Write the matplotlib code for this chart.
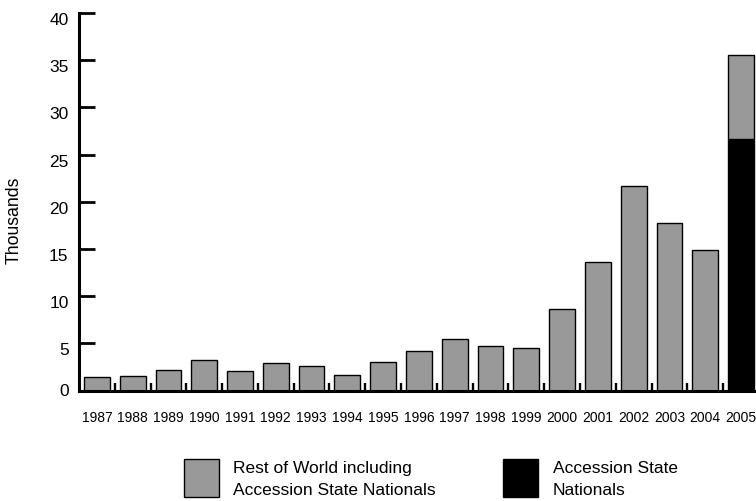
import matplotlib
matplotlib.use("Agg")
import matplotlib.pyplot as plt
from matplotlib.patches import Rectangle
from matplotlib.ticker import FixedLocator
from matplotlib.transforms import ScaledTranslation
import numpy as np

years = [str(y) for y in range(1987, 2006)]
rest_of_world = [1.4, 1.55, 2.15, 3.25, 2.05, 2.9, 2.55, 1.65, 3.05, 4.2,
                 5.45, 4.7, 4.5, 8.6, 13.6, 21.7, 17.7, 14.9, 8.9]
accession = [0, 0, 0, 0, 0, 0, 0, 0, 0, 0,
             0, 0, 0, 0, 0, 0, 0, 0, 26.6]
y_ticks = [0, 5, 10, 15, 20, 25, 30, 35, 40]
legend_labels = [["Rest of World including", "Accession State Nationals"],
                 ["Accession State", "Nationals"]]

plt.rcParams['font.family'] = ['Liberation Sans', 'DejaVu Sans']

GREY = "#999999"
W, H = 756, 501

fig = plt.figure(figsize=(7.56, 5.01), dpi=100)
ax = fig.add_axes([79 / W, 1 - 390.5 / H, 677 / W, 377.5 / H])

x = np.arange(len(years))
ax.bar(x, accession, width=0.72, color="black", edgecolor="black", linewidth=1)
ax.bar(x, rest_of_world, width=0.72, bottom=accession, color=GREY,
       edgecolor="black", linewidth=1)

ax.set_xlim(-0.5, 18.42)
ax.set_ylim(0, 40)
ax.set_yticks(y_ticks)
ax.set_yticklabels([str(t) for t in y_ticks], fontsize=12.5)
ax.tick_params(axis='y', direction='in', length=11.5, width=2, pad=7.5)
# labels sit a little below their ticks in the original (except the zero)
shift = ScaledTranslation(0, -6 / 100, fig.dpi_scale_trans)
for lab in ax.get_yticklabels()[1:]:
    lab.set_transform(lab.get_transform() + shift)

ax.set_xticks(x)
ax.set_xticklabels(years, fontsize=10)
ax.tick_params(axis='x', which='major', length=0, pad=15)
ax.xaxis.set_minor_locator(FixedLocator(x[:-1] + 0.5))
ax.tick_params(axis='x', which='minor', direction='in', length=6, width=1.7)

for s in ['top', 'right']:
    ax.spines[s].set_visible(False)
for s in ['left', 'bottom']:
    ax.spines[s].set_linewidth(2.2)

ax.set_ylabel("Thousands", fontsize=12.7)
ax.yaxis.set_label_coords((23 - 79) / 677, (390.5 - 220) / 377.5)

# legend drawn by hand: square swatch + two text lines
for (x0, tx), color, lines in zip([(184, 233), (503, 553)], [GREY, "black"],
                                  legend_labels):
    fig.add_artist(Rectangle((x0 / W, 1 - 497 / H), 35 / W, 38 / H,
                             transform=fig.transFigure, facecolor=color,
                             edgecolor="black", linewidth=1))
    for base, line in zip([473, 495], lines):
        fig.text(tx / W, 1 - base / H, line, fontsize=12.5, va='baseline')

fig.savefig("out.png", dpi=100)
